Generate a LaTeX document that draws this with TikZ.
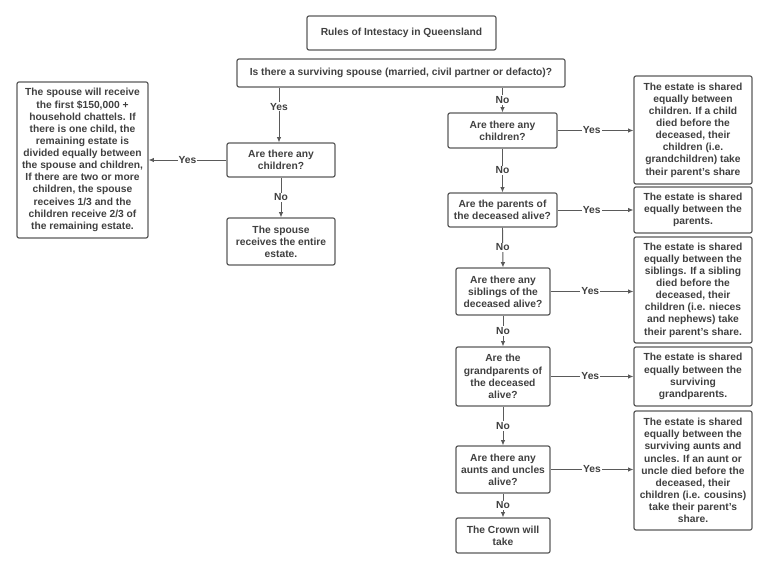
\documentclass[tikz,border=0pt]{standalone}
\usepackage{fontspec}
\setmainfont{Liberation Sans}
\usetikzlibrary{arrows.meta}

\definecolor{ink}{HTML}{404040}
\definecolor{edge}{HTML}{5A5A5A}
\tikzset{
  box/.style={draw=edge, line width=0.9pt, rounded corners=1.5pt, align=center,
    inner sep=0pt, text=ink, font=\bfseries\fontsize{7.7}{9.1}\selectfont},
  link/.style={draw=edge, line width=0.7pt, -{Latex[length=4pt,width=3.5pt]}},
  lab/.style={fill=white, inner sep=0.8pt, text=ink, font=\bfseries\fontsize{7.7}{8}\selectfont}
}

\begin{document}
\begin{tikzpicture}[x=0.75pt, y=-0.75pt]
  \useasboundingbox (0,0) rectangle (768,570);
  \node (title) [box, minimum width=189*0.75pt, minimum height=34*0.75pt] at (401.5,33)
    {Rules of Intestacy in Queensland};
  \node (spouse) [box, minimum width=328*0.75pt, minimum height=28*0.75pt] at (401,73)
    {Is there a surviving spouse (married, civil partner or defacto)?};
  % left branch
  \node (kidsA) [box, minimum width=108*0.75pt, minimum height=34*0.75pt] at (281,160)
    {Are there any\\children?};
  \node (whole) [box, minimum width=108*0.75pt, minimum height=47*0.75pt] at (281,241.5)
    {The spouse\\receives the entire\\estate.};
  \node (split) [box, minimum width=131*0.75pt, minimum height=156*0.75pt] at (82.5,160)
    {The spouse will receive\\the first \$150,000 +\\household chattels. If\\there is one child, the\\remaining estate is\\divided equally between\\the spouse and children,\\If there are two or more\\children, the spouse\\receives 1/3 and the\\children receive 2/3 of\\the remaining estate.};
  % right branch
  \node (kidsB) [box, minimum width=109*0.75pt, minimum height=35*0.75pt] at (502.5,130.5)
    {Are there any\\children?};
  \node (parents) [box, minimum width=109*0.75pt, minimum height=34*0.75pt] at (502.5,210)
    {Are the parents of\\the deceased alive?};
  \node (sibs) [box, minimum width=94*0.75pt, minimum height=47*0.75pt] at (503,291.5)
    {Are there any\\siblings of the\\deceased alive?};
  \node (grand) [box, minimum width=94*0.75pt, minimum height=59*0.75pt] at (503,376.5)
    {Are the\\grandparents of\\the deceased\\alive?};
  \node (aunts) [box, minimum width=94*0.75pt, minimum height=47*0.75pt] at (503,469.5)
    {Are there any\\aunts and uncles\\alive?};
  \node (crown) [box, minimum width=94*0.75pt, minimum height=35*0.75pt] at (503,535.5)
    {The Crown will\\take};
  % outcomes
  \node (r1) [box, minimum width=118*0.75pt, minimum height=108*0.75pt] at (693,130)
    {The estate is shared\\equally between\\children. If a child\\died before the\\deceased, their\\children (i.e.\\grandchildren) take\\their parent's share};
  \node (r2) [box, minimum width=118*0.75pt, minimum height=46*0.75pt] at (693,210)
    {The estate is shared\\equally between the\\parents.};
  \node (r3) [box, minimum width=118*0.75pt, minimum height=106*0.75pt] at (693,290)
    {The estate is shared\\equally between the\\siblings. If a sibling\\died before the\\deceased, their\\children (i.e. nieces\\and nephews) take\\their parent's share.};
  \node (r4) [box, minimum width=118*0.75pt, minimum height=59*0.75pt] at (693,376.5)
    {The estate is shared\\equally between the\\surviving\\grandparents.};
  \node (r5) [box, minimum width=118*0.75pt, minimum height=119*0.75pt] at (693,470.5)
    {The estate is shared\\equally between the\\surviving aunts and\\uncles. If an aunt or\\uncle died before the\\deceased, their\\children (i.e. cousins)\\take their parent's\\share.};

  \draw [link] (spouse.south -| kidsA.north) ++(-2,0) coordinate (ya) -- (ya |- kidsA.north) node [lab, pos=0.35] {Yes};
  \draw [link] (spouse.south -| kidsB.north) -- (kidsB.north) node [lab, midway] {No};
  \draw [link] (kidsA.west) -- (split.east) node [lab, midway] {Yes};
  \draw [link] (kidsA.south) -- (whole.north) node [lab, midway] {No};
  \draw [link] (kidsB.south) -- (parents.north) node [lab, midway] {No};
  \draw [link] (parents.south) -- (sibs.north) node [lab, midway] {No};
  \draw [link] (sibs.south) -- (grand.north) node [lab, midway] {No};
  \draw [link] (grand.south) -- (aunts.north) node [lab, midway] {No};
  \draw [link] (aunts.south) -- (crown.north) node [lab, midway] {No};
  \draw [link] (kidsB.east) -- (kidsB.east -| r1.west) node [lab, pos=0.45] {Yes};
  \draw [link] (parents.east) -- (parents.east -| r2.west) node [lab, pos=0.45] {Yes};
  \draw [link] (sibs.east) -- (sibs.east -| r3.west) node [lab, pos=0.48] {Yes};
  \draw [link] (grand.east) -- (grand.east -| r4.west) node [lab, pos=0.48] {Yes};
  \draw [link] (aunts.east) -- (aunts.east -| r5.west) node [lab, pos=0.5] {Yes};
\end{tikzpicture}
\end{document}
